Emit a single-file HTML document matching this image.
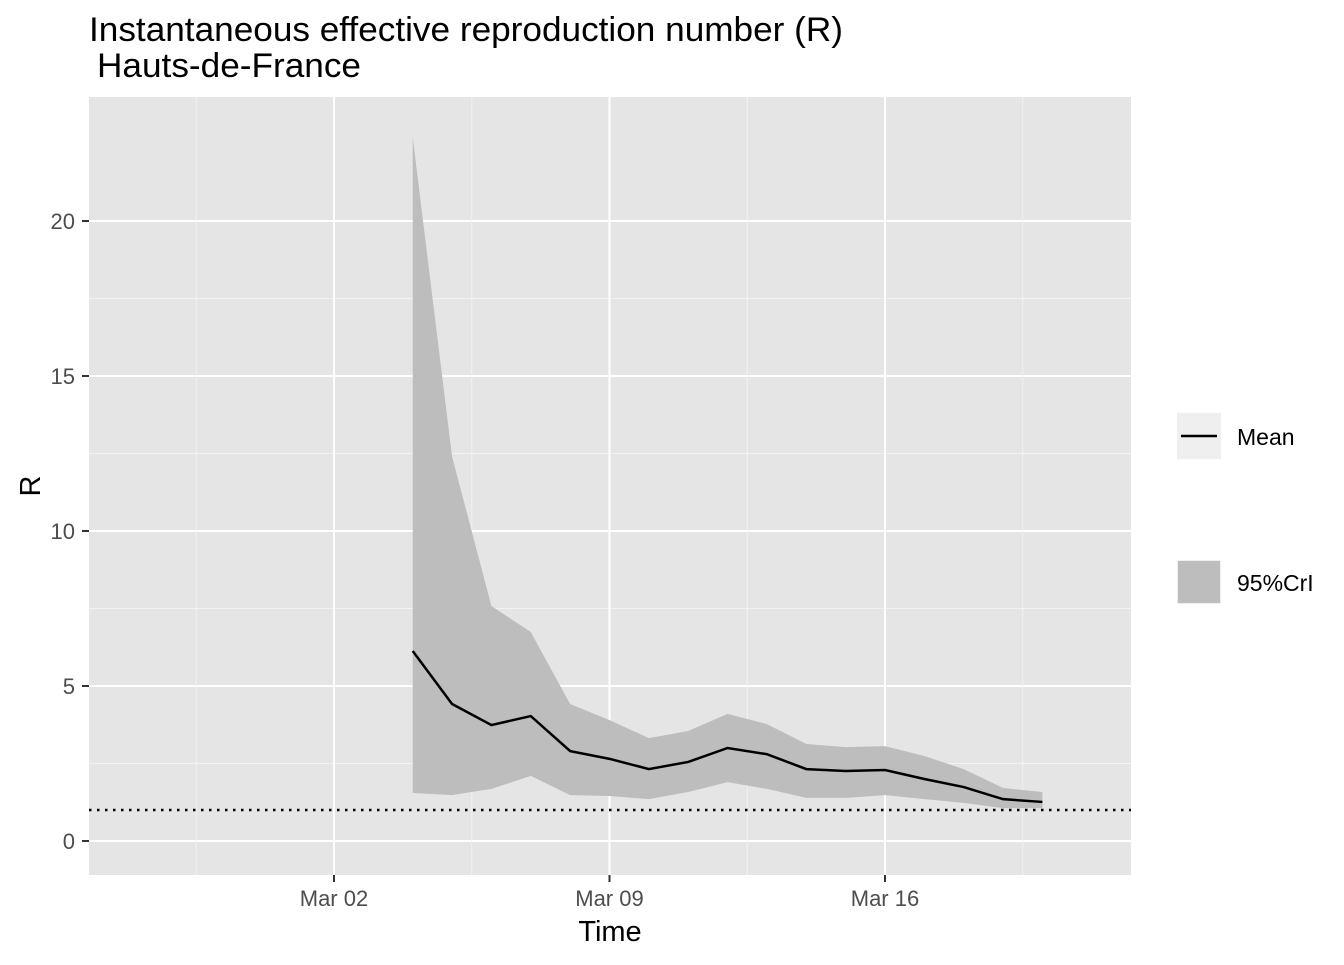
<!DOCTYPE html>
<html><head><meta charset="utf-8"><style>
body{margin:0;background:#fff;font-family:"Liberation Sans",Arial,sans-serif}
</style></head><body>
<svg width="1344" height="960" xmlns="http://www.w3.org/2000/svg" font-family="Liberation Sans, Arial, sans-serif">
<text x="89" y="41" font-size="34" textLength="754" lengthAdjust="spacingAndGlyphs" fill="#000">Instantaneous effective reproduction number (R)</text>
<text x="97" y="77" font-size="34" textLength="264" lengthAdjust="spacingAndGlyphs" fill="#000">Hauts-de-France</text>
<rect x="89" y="97" width="1042" height="778" fill="#e5e5e5"/>
<g id="grid"></g>
<g id="marks"></g>
<g id="axes"></g>
<text x="610" y="941" font-size="29" text-anchor="middle">Time</text>
<text transform="translate(40,486) rotate(-90)" font-size="29" text-anchor="middle">R</text>
<g>
<rect x="1177" y="413" width="44" height="46" fill="#efefef"/>
<line x1="1181" y1="436" x2="1217" y2="436" stroke="#000" stroke-width="2.5"/>
<text x="1237" y="445" font-size="23">Mean</text>
<rect x="1177" y="560" width="44" height="44" fill="#efefef"/>
<rect x="1178" y="561" width="42" height="42" fill="#bdbdbd"/>
<text x="1237" y="591" font-size="23">95%CrI</text>
</g>
</svg>
<script>
const days=[4,5,6,7,8,9,10,11,12,13,14,15,16,17,18,19,20];
const meanR=[6.13,4.42,3.74,4.03,2.9,2.65,2.32,2.55,3.0,2.8,2.32,2.26,2.29,2.0,1.74,1.35,1.26];
const upperR=[22.7,12.4,7.58,6.74,4.42,3.9,3.32,3.55,4.1,3.77,3.13,3.03,3.06,2.74,2.32,1.71,1.58];
const lowerR=[1.55,1.48,1.68,2.1,1.48,1.45,1.35,1.58,1.9,1.68,1.39,1.39,1.48,1.35,1.23,1.06,1.06];
const yTicks=[0,5,10,15,20];
const xTickDays=[2,9,16];
const xTickLabels=["Mar 02","Mar 09","Mar 16"];
const threshold=1;
const X=d=>334+(d-2)*39.357;
const Y=v=>841-v*31;
const NS="http://www.w3.org/2000/svg";
function mk(t,a,p){const e=document.createElementNS(NS,t);for(const k in a)e.setAttribute(k,a[k]);p.appendChild(e);return e;}
const grid=document.getElementById('grid'),marks=document.getElementById('marks'),axes=document.getElementById('axes');
yTicks.forEach((v,i)=>{
 if(i<yTicks.length-1){const m=mk('line',{x1:89,x2:1131,y1:Y(v+2.5),y2:Y(v+2.5),stroke:'#f2f2f2','stroke-width':1},grid);
 
 }
 const g=mk('line',{x1:89,x2:1131,y1:Y(v),y2:Y(v),stroke:'#fff','stroke-width':2},grid);
 
 
 mk('line',{x1:82,x2:89,y1:Y(v),y2:Y(v),stroke:'#333','stroke-width':2},axes);
 const t=mk('text',{x:75,y:Y(v)+8,'font-size':22,'text-anchor':'end',fill:'#4d4d4d'},axes);t.textContent=v;
 
 
});
[xTickDays[0]-3.5].concat(xTickDays.map(d=>d+3.5)).forEach(d=>{
 const m=mk('line',{x1:X(d),x2:X(d),y1:97,y2:875,stroke:'#f2f2f2','stroke-width':1},grid);
 
 
});
xTickDays.forEach((d,i)=>{
 const g=mk('line',{x1:X(d),x2:X(d),y1:97,y2:875,stroke:'#fff','stroke-width':2},grid);
 
 
 mk('line',{x1:X(d),x2:X(d),y1:875,y2:882,stroke:'#333','stroke-width':2},axes);
 const t=mk('text',{x:X(d),y:906,'font-size':22,'text-anchor':'middle',fill:'#4d4d4d'},axes);t.textContent=xTickLabels[i];
 
 
});
let pts=days.map((d,i)=>X(d)+','+Y(upperR[i]));
for(let i=days.length-1;i>=0;i--)pts.push(X(days[i])+','+Y(lowerR[i]));
const band=mk('polygon',{points:pts.join(' '),fill:'#bdbdbd'},marks);


const th=mk('line',{x1:89,x2:1131,y1:Y(threshold),y2:Y(threshold),stroke:'#000','stroke-width':2.5,'stroke-dasharray':'2.5,5.5'},marks);


const ml=mk('polyline',{points:days.map((d,i)=>X(d)+','+Y(meanR[i])).join(' '),fill:'none',stroke:'#000','stroke-width':2.5},marks);


</script>
</body></html>
